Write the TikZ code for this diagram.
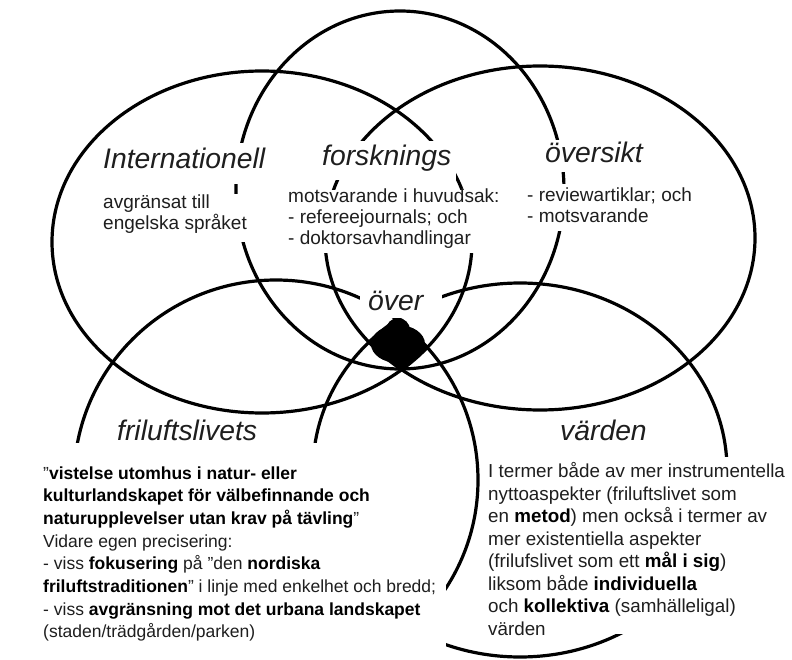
\documentclass[tikz,border=0pt]{standalone}
\usepackage{fontspec}
\setmainfont{Liberation Sans}
\definecolor{tx}{RGB}{30,30,30}
\tikzset{
  ring/.style={draw=black, line width=3.2pt},
  mask/.style={fill=white},
  lbl/.style={anchor=base west, inner sep=0pt, text=tx, font=\fontsize{28.3}{30}\selectfont\itshape},
  up/.style={anchor=base west, inner sep=0pt, text=tx, font=\fontsize{19}{21}\selectfont},
  fr/.style={anchor=base west, inner sep=0pt, text=tx, font=\fontsize{17.5}{22}\selectfont},
  vd/.style={anchor=base west, inner sep=0pt, text=tx, font=\fontsize{18.8}{22}\selectfont},
}
\newcommand\bb[1]{{\bfseries\color{black}#1}}
\begin{document}
\begin{tikzpicture}[x=1pt,y=-1pt]
\useasboundingbox (0,0) rectangle (792,660);
\fill[white] (0,0) rectangle (792,660);
% centres of the five ellipses
\coordinate (cT) at (400,190);
\coordinate (cI) at (262,242);
\coordinate (cO) at (540,238);
\coordinate (cF) at (276,480);
\coordinate (cV) at (520,470);
\draw[ring] (cT) ellipse [x radius=164pt, y radius=179pt];
\draw[ring] (cI) ellipse [x radius=210pt, y radius=171pt];
\draw[ring] (cO) ellipse [x radius=215pt, y radius=172pt];
\draw[ring] (cF) ellipse [x radius=202pt, y radius=200pt];
\draw[ring] (cV) ellipse [x radius=207pt, y radius=187pt];
% common overlap of all five
\begin{scope}
  \clip (cT) ellipse [x radius=164pt, y radius=179pt];
  \clip (cI) ellipse [x radius=210pt, y radius=171pt];
  \clip (cO) ellipse [x radius=215pt, y radius=172pt];
  \clip (cF) ellipse [x radius=202pt, y radius=200pt];
  \clip (cV) ellipse [x radius=207pt, y radius=187pt];
  \fill[black] (0,0) rectangle (792,660);
\end{scope}
\fill[black] (398,344) ellipse [x radius=27pt, y radius=19pt];
\fill[black] (398,330) ellipse [x radius=12pt, y radius=12pt];
% white backgrounds of the texts
\fill[mask] (98,143) rectangle (272,184);
\fill[mask] (98,194) rectangle (252,242);
\fill[mask] (316,141) rectangle (456,180);
\fill[mask] (283,190) rectangle (507,253);
\fill[mask] (540,140) rectangle (648,172);
\fill[mask] (522,184) rectangle (695,231);
\fill[mask] (360,283) rectangle (442,317.5);
\fill[mask] (0,443) rectangle (446,660);
\fill[mask] (484,457) rectangle (792,634);
% labels
\node[lbl] (lI) at (103,169) {Internationell};
\node[lbl] (lF) at (322,166) {forsknings};
\node[lbl] (lO) at (545,163) {översikt};
\node[lbl] (lC) at (368,310) {över};
\node[lbl] (lR) at (117,440) {friluftslivets};
\node[lbl] (lV) at (560,440) {värden};
% upper texts
\node[up] (i1) at (103,209) {avgränsat till};
\node[up] (i2) at (103,230) {engelska språket};
\node[up] (f1) at (288,203) {motsvarande i huvudsak:};
\node[up] (f2) at (288,224) {- refereejournals; och};
\node[up] (f3) at (288,245) {- doktorsavhandlingar};
\node[up] (o1) at (527,202) {- reviewartiklar; och};
\node[up] (o2) at (527,223) {- motsvarande};
% friluftslivets paragraph
\node[fr] (r1) at (43,479) {”\bb{vistelse utomhus i natur- eller}};
\node[fr] (r2) at (43,501.7) {\bb{kulturlandskapet för välbefinnande och}};
\node[fr] (r3) at (43,524.4) {\bb{naturupplevelser utan krav på tävling}”};
\node[fr] (r4) at (43,547.1) {Vidare egen precisering:};
\node[fr] (r5) at (43,569.8) {- viss \bb{fokusering} på ”den \bb{nordiska}};
\node[fr] (r6) at (43,592.5) {\bb{friluftstraditionen}” i linje med enkelhet och bredd;};
\node[fr] (r7) at (43,615.2) {- viss \bb{avgränsning mot det urbana landskapet}};
\node[fr] (r8) at (43,637.9) {(staden/trädgården/parken)};
% värden paragraph
\node[vd] (v1) at (488,477.5) {I termer både av mer instrumentella};
\node[vd] (v2) at (488,500) {nyttoaspekter (friluftslivet som};
\node[vd] (v3) at (488,522.5) {en \bb{metod}) men också i termer av};
\node[vd] (v4) at (488,545) {mer existentiella aspekter};
\node[vd] (v5) at (488,567.5) {(frilufslivet som ett \bb{mål i sig})};
\node[vd] (v6) at (488,590) {liksom både \bb{individuella}};
\node[vd] (v7) at (488,612.5) {och \bb{kollektiva} (samhälleligal)};
\node[vd] (v8) at (488,635) {värden};
\end{tikzpicture}
\end{document}
